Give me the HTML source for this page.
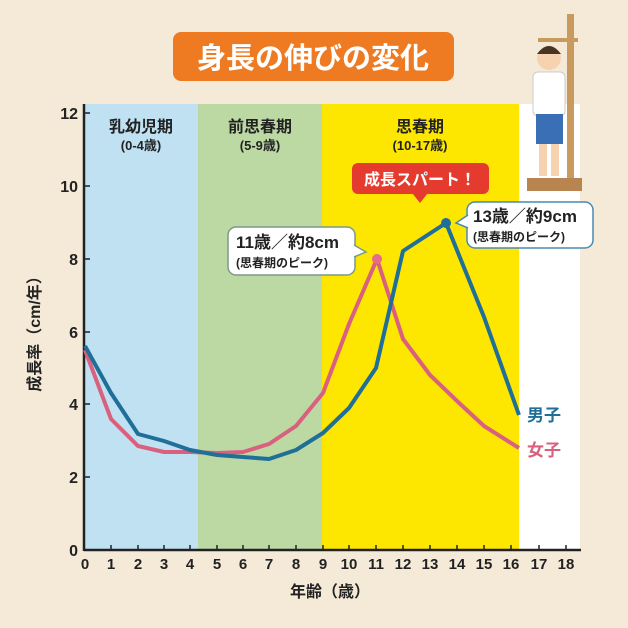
<!DOCTYPE html><html><head><meta charset="utf-8"><style>body{margin:0;background:#f5ead8}svg{display:block}text{font-family:"Liberation Sans","Noto Sans CJK JP",sans-serif;font-weight:bold}</style></head><body>
<svg width="628" height="628" viewBox="0 0 628 628" xmlns="http://www.w3.org/2000/svg">
<rect width="628" height="628" fill="#f5ead8"/>
<rect x="173" y="32" width="281" height="49" rx="8" fill="#ee7a22"/>
<text x="313" y="68" font-size="29" fill="#fff" text-anchor="middle">身長の伸びの変化</text>
<rect x="85" y="104" width="113" height="446" fill="#bfe1f2"/>
<rect x="198" y="104" width="124" height="446" fill="#bcd9a4"/>
<rect x="322" y="104" width="197" height="446" fill="#fde700"/>
<rect x="519" y="104" width="61" height="446" fill="#fff"/>
<text x="141" y="132" font-size="16" text-anchor="middle" fill="#222">乳幼児期</text>
<text x="141" y="150" font-size="13" text-anchor="middle" fill="#222">(0-4歳)</text>
<text x="260" y="132" font-size="16" text-anchor="middle" fill="#222">前思春期</text>
<text x="260" y="150" font-size="13" text-anchor="middle" fill="#222">(5-9歳)</text>
<text x="420" y="132" font-size="16" text-anchor="middle" fill="#222">思春期</text>
<text x="420" y="150" font-size="13" text-anchor="middle" fill="#222">(10-17歳)</text>
<!-- person -->
<rect x="567" y="14" width="7" height="175" fill="#c99a5e"/>
<rect x="527" y="178" width="55" height="13" fill="#b88450"/>
<rect x="538" y="38" width="40" height="4" fill="#c99a5e"/>
<circle cx="549" cy="58" r="12" fill="#f7d2b0"/>
<path d="M537 54 Q549 38 561 54 Z" fill="#4a3322"/>
<rect x="533" y="72" width="32" height="44" rx="5" fill="#fff" stroke="#ccc"/>
<rect x="536" y="114" width="27" height="30" fill="#3a6fb5"/>
<rect x="539" y="144" width="8" height="32" fill="#f7d2b0"/>
<rect x="551" y="144" width="8" height="32" fill="#f7d2b0"/>
<!-- axes -->
<g stroke="#222" stroke-width="2.5"><line x1="84" y1="104" x2="84" y2="551"/><line x1="84" y1="550" x2="581" y2="550"/></g>
<g stroke="#222" stroke-width="1.5">
<line x1="84" y1="113" x2="90" y2="113"/><line x1="84" y1="186" x2="90" y2="186"/><line x1="84" y1="259" x2="90" y2="259"/><line x1="84" y1="332" x2="90" y2="332"/><line x1="84" y1="404" x2="90" y2="404"/><line x1="84" y1="477" x2="90" y2="477"/>
</g>
<g font-size="16" text-anchor="end" fill="#222">
<text x="78" y="119">12</text><text x="78" y="192">10</text><text x="78" y="265">8</text><text x="78" y="338">6</text><text x="78" y="410">4</text><text x="78" y="483">2</text><text x="78" y="556">0</text></g>
<g font-size="15" text-anchor="middle" fill="#222">
<text x="85" y="569">0</text><text x="111" y="569">1</text><text x="138" y="569">2</text><text x="164" y="569">3</text><text x="190" y="569">4</text><text x="217" y="569">5</text><text x="243" y="569">6</text><text x="269" y="569">7</text><text x="296" y="569">8</text><text x="323" y="569">9</text><text x="349" y="569">10</text><text x="376" y="569">11</text><text x="403" y="569">12</text><text x="430" y="569">13</text><text x="457" y="569">14</text><text x="484" y="569">15</text><text x="511" y="569">16</text><text x="539" y="569">17</text><text x="566" y="569">18</text></g>
<g stroke="#222" stroke-width="1.5"><line x1="111" y1="545" x2="111" y2="550"/><line x1="138" y1="545" x2="138" y2="550"/><line x1="164" y1="545" x2="164" y2="550"/><line x1="190" y1="545" x2="190" y2="550"/><line x1="217" y1="545" x2="217" y2="550"/><line x1="243" y1="545" x2="243" y2="550"/><line x1="269" y1="545" x2="269" y2="550"/><line x1="296" y1="545" x2="296" y2="550"/><line x1="323" y1="545" x2="323" y2="550"/><line x1="349" y1="545" x2="349" y2="550"/><line x1="376" y1="545" x2="376" y2="550"/><line x1="403" y1="545" x2="403" y2="550"/><line x1="430" y1="545" x2="430" y2="550"/><line x1="457" y1="545" x2="457" y2="550"/><line x1="484" y1="545" x2="484" y2="550"/><line x1="511" y1="545" x2="511" y2="550"/><line x1="539" y1="545" x2="539" y2="550"/><line x1="566" y1="545" x2="566" y2="550"/></g>
<text x="330" y="597" font-size="16" text-anchor="middle" fill="#222">年齢（歳）</text>
<text transform="translate(40 330) rotate(-90)" font-size="16" text-anchor="middle" fill="#222">成長率（cm/年）</text>
<!-- lines -->
<polyline fill="none" stroke="#d9607f" stroke-width="4" stroke-linejoin="round" points="85,350 111,419 138,446 164,452 190,452 217,453 243,452 269,444 296,426 323,393 349,324 377,259 403,339 430,375 457,401 484,426 519,448"/>
<polyline fill="none" stroke="#1f6f98" stroke-width="4" stroke-linejoin="round" points="85,346 111,393 138,434 164,441 190,450 217,455 243,457 269,459 296,450 323,433 349,408 376,368 403,251 446,223 484,317 519,415"/>
<circle cx="377" cy="259" r="5" fill="#e86c8a"/>
<circle cx="446" cy="223" r="5" fill="#1f6f98"/>
<text x="527" y="421" font-size="17" fill="#1f6f98">男子</text>
<text x="527" y="456" font-size="17" fill="#d9607f">女子</text>
<!-- callouts -->
<rect x="352" y="163" width="137" height="31" rx="6" fill="#e53a2e"/>
<path d="M412 193 L420 203 L428 193 Z" fill="#e53a2e"/>
<text x="420" y="185" font-size="16" fill="#fff" text-anchor="middle">成長スパート！</text>
<rect x="228" y="227" width="127" height="48" rx="8" fill="#fff" stroke="#7a9a8a" stroke-width="1.5"/>
<path d="M354 245 L366 252 L354 257" fill="#fff" stroke="#7a9a8a" stroke-width="1.5"/>
<text x="236" y="248" font-size="17" fill="#222">11歳／約8cm</text>
<text x="236" y="267" font-size="12" fill="#222">(思春期のピーク)</text>
<rect x="467" y="202" width="126" height="46" rx="8" fill="#fff" stroke="#4a8ab0" stroke-width="1.5"/>
<path d="M468 215 L456 223 L468 228" fill="#fff" stroke="#4a8ab0" stroke-width="1.5"/>
<text x="473" y="222" font-size="17" fill="#222">13歳／約9cm</text>
<text x="473" y="241" font-size="12" fill="#222">(思春期のピーク)</text>
</svg>
</body></html>
